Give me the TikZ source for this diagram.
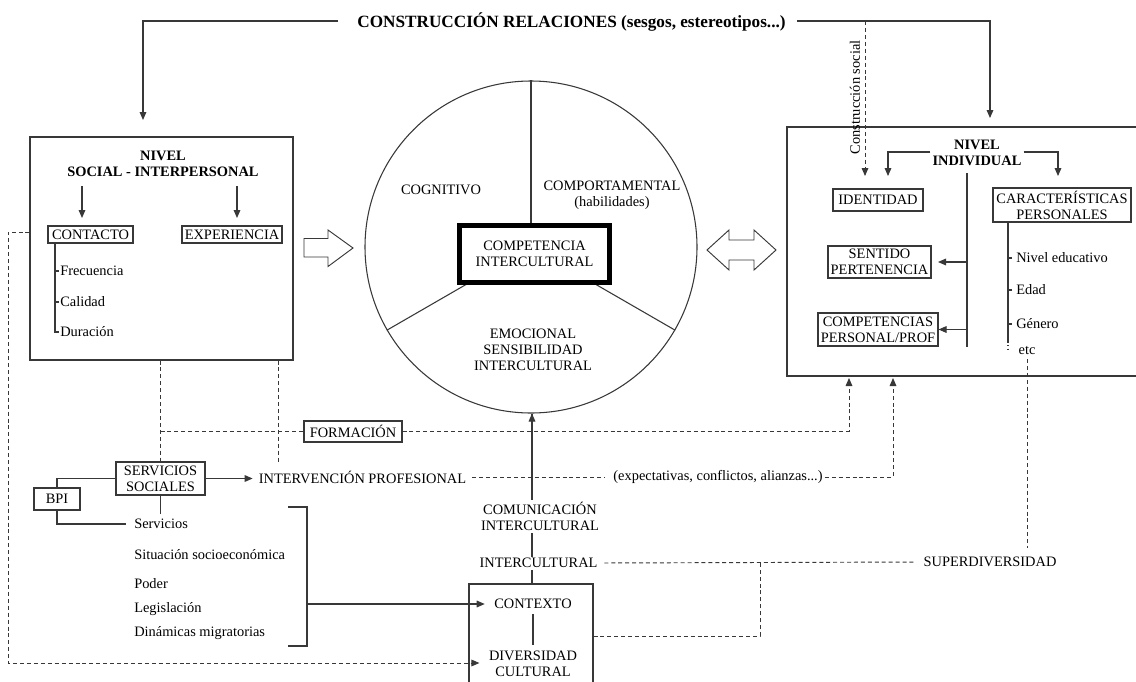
\documentclass[tikz,border=0pt]{standalone}
\usepackage{fontspec}
\setmainfont{Liberation Serif}
\usetikzlibrary{arrows.meta,calc}
\newcommand\fs{\fontsize{10.8}{12}\selectfont}
\newcommand\fbold{\fontsize{10.8}{12}\selectfont\bfseries}
\newcommand\ftitle{\fontsize{12.9}{14}\selectfont\bfseries}
\definecolor{lc}{gray}{0.22}
\tikzset{
  lbl/.style={font=\fs, inner sep=0pt, align=center},
  hd/.style={font=\fbold, inner sep=0pt, align=center},
  ttl/.style={font=\ftitle, inner sep=0pt},
  bx/.style 2 args={draw=lc, line width=0.8pt, font=\fs, align=center, inner sep=0pt,
                    minimum width=#1*0.75pt, minimum height=#2*0.75pt},
  ln/.style={draw=lc, line width=0.8pt},
  dsh/.style={draw=lc, line width=0.7pt, dash pattern=on 3pt off 2.2pt},
  arr/.style={-{Triangle[length=6pt,width=5pt]}},
  blockarrow/.style={draw=lc, line width=0.7pt, fill=white, line join=miter}
}
\begin{document}
\begin{tikzpicture}[x=0.75pt,y=-0.75pt]
\clip (0,0) rectangle (1136,682);
\fill[white] (0,0) rectangle (1136,682);

% ---------- title and the two top connectors ----------
\node[ttl] (title) at (571.5,22) {CONSTRUCCIÓN RELACIONES (sesgos, estereotipos...)};
\coordinate (tL) at (338,21);
\coordinate (tR) at (797,21);
\coordinate (aL) at (143,120);
\coordinate (aR) at (990,118);
\draw[ln,arr] (tL) -| (aL);
\draw[ln,arr] (tR) -| (aR);

% ---------- social / interpersonal level ----------
\node[bx={263}{223}] (lbox) at (161.5,248.5) {};
\node[hd] (lhead) at (163,164) {NIVEL\\SOCIAL - INTERPERSONAL};
\node[bx={85}{17}] (contacto) at (90.5,234.5) {CONTACTO};
\node[bx={100}{17}] (exper) at (232,234.5) {EXPERIENCIA};
\coordinate (c1) at (82,186);
\coordinate (c2) at (237,186);
\draw[ln,arr] (c1) -- (c1 |- 0,218);
\draw[ln,arr] (c2) -- (c2 |- 0,218);
\draw[ln] (55,243) -- (55,332) -- (59,332);
\draw[ln] (55,271) -- (59,271);
\draw[ln] (55,302) -- (59,302);
\node[lbl,anchor=west] (frec) at (60,271) {Frecuencia};
\node[lbl,anchor=west] (cal) at (60,302) {Calidad};
\node[lbl,anchor=west] (dur) at (60,332) {Duración};

% ---------- central circle ----------
\node[circle, draw=lc, line width=0.8pt, minimum size=332*0.75pt, inner sep=0pt] (circ) at (531,247) {};
\draw[ln] (circ.center) -- (circ.90);
\draw[ln] (circ.center) -- (circ.210);
\draw[ln] (circ.center) -- (circ.330);
\node[draw=black, line width=3.75pt, fill=white, font=\fs, align=center, inner sep=0pt,
      minimum width=150*0.75pt, minimum height=57*0.75pt] (comp) at (534.5,254)
      {COMPETENCIA\\INTERCULTURAL};
\node[lbl] (cogn) at (441,190) {COGNITIVO};
\node[lbl] (compor) at (612,195.5) {COMPORTAMENTAL\\(habilidades)};
\node[lbl] (emoc) at (533,349.5) {EMOCIONAL\\SENSIBILIDAD\\INTERCULTURAL};

% ---------- block arrows ----------
\draw[blockarrow] (304,238.5) -- (328,238.5) -- (328,230) -- (353,248) -- (328,266.5)
      -- (328,257) -- (304,257) -- cycle;
\draw[blockarrow] (707,250) -- (729,230) -- (729,240) -- (754,240) -- (754,230) -- (776,250)
      -- (754,270) -- (754,260) -- (729,260) -- (729,270) -- cycle;

% ---------- individual level ----------
\node[bx={353}{249}] (rbox) at (963.5,251.5) {};
\node[hd] (rhead) at (977,153) {NIVEL\\INDIVIDUAL};
\coordinate (r1) at (888,176);
\coordinate (r2) at (1058,176);
\draw[ln,arr] (rhead.west |- 0,152) ++(-2,0) -| (r1);
\draw[ln,arr] (rhead.east |- 0,152) ++(2,0) -| (r2);
\coordinate (cs1) at (865,21);
\coordinate (cs2) at (865,176);
\draw[dsh,arr] (cs1) -- (cs2);
\node[lbl, rotate=90] (csoc) at (855,97.5) {Construcción social};

\node[bx={90}{22}] (ident) at (878,200) {IDENTIDAD};
\node[bx={103}{32}] (sent) at (879.5,262) {SENTIDO\\PERTENENCIA};
\node[bx={120}{33}] (compet) at (878,329.5) {COMPETENCIAS\\PERSONAL/PROF};
\node[bx={138}{34}] (carac) at (1062,205) {CARACTERÍSTICAS\\PERSONALES};

\coordinate (v1) at (967,173);
\coordinate (v2) at (967,347);
\draw[ln] (v1) -- (v2);
\draw[ln,arr] (v1 |- sent) -- ++(-29,0);
\draw[ln,arr] (v1 |- compet) -- (compet.east);

\draw[ln] (1008,222) -- (1008,343);
\draw[ln, dotted] (1008,345) -- (1008,352);
\draw[ln] (1008,258) -- (1012,258);
\draw[ln] (1008,290) -- (1012,290);
\draw[ln] (1008,324) -- (1012,324);
\node[lbl,anchor=west] (niv) at (1016,258) {Nivel educativo};
\node[lbl,anchor=west] (edad) at (1016,290) {Edad};
\node[lbl,anchor=west] (gen) at (1016,324) {Género};
\node[lbl] (etc) at (1027,351) {etc};

% ---------- lower part ----------
\node[bx={98}{21}] (form) at (353,431.5) {FORMACIÓN};
\node[bx={89}{33}] (serv) at (160.5,478.5) {SERVICIOS\\SOCIALES};
\node[bx={46}{22}] (bpi) at (57,499) {BPI};
\node[lbl] (interv) at (362.5,477) {INTERVENCIÓN PROFESIONAL};
\node[lbl] (expect) at (718,477) {(expectativas, conflictos, alianzas...)};

\coordinate (f1) at (849,378);
\coordinate (f2) at (893,378);
\draw[dsh] (lbox.south -| serv.north) -- (serv.north);
\draw[dsh] (lbox.south -| 278,0) -- (278,462);
\draw[dsh] (serv.north |- form.west) -- (form.west);
\draw[dsh,arr] (form.east) -| (f1);
\draw[ln,arr] (serv.east) -- ([xshift=-4.5pt]serv.east -| interv.west);
\draw[dsh, shorten <=4.5pt, shorten >=6pt] (interv.east) -- (expect.west);
\draw[dsh,arr, shorten <=1.5pt] (expect.east) -| (f2);

\draw[ln] (bpi.north) |- (serv.west);
\node[lbl,anchor=west] (servs) at (134,524) {Servicios};
\draw[ln] (bpi.south) |- ([xshift=-6pt]servs.west);
\draw[ln] (serv.south) -- ++(0,18);
\node[lbl,anchor=west] (situ) at (134,555) {Situación socioeconómica};
\node[lbl,anchor=west] (poder) at (134,584) {Poder};
\node[lbl,anchor=west] (legis) at (134,609) {Legislación};
\node[lbl,anchor=west] (dinam) at (134,633) {Dinámicas migratorias};
\coordinate (b1) at (288,507);
\coordinate (b2) at (307,507);
\coordinate (b3) at (307,646);
\coordinate (b4) at (288,646);
\draw[ln] (b1) -- (b2) -- (b3) -- (b4);

\node[bx={124}{130}] (ctx) at (531,649) {};
\node[lbl] (contexto) at (533,604) {CONTEXTO};
\node[lbl] (divers) at (533,663.5) {DIVERSIDAD\\CULTURAL};
\draw[ln, shorten <=4pt, shorten >=4pt] (contexto.south) -- (divers.north);
\draw[ln,arr] (b2 |- contexto) -- ([xshift=-7pt]contexto.west);

\node[lbl] (comun) at (540,516.5) {COMUNICACIÓN\\INTERCULTURAL};
\node[lbl] (intc) at (538.5,563) {INTERCULTURAL};
\coordinate (ax) at (532,0);
\draw[ln,arr] (ax |- comun.north) ++(0,-2) -- (ax |- circ.south) ++(0,0);
\draw[ln] (ax |- comun.south) ++(0,2) -- (532,557);
\draw[ln] (532,570) -- (ax |- ctx.north);
\node[lbl] (super) at (990,562) {SUPERDIVERSIDAD};
\draw[dsh, shorten <=5pt, shorten >=6pt] (intc.east) -- (super.west);
\draw[dsh] (ctx.east |- 0,636) -| (760,562);
\draw[dsh] (1027,359) -- (1027,548);

% outer dashed path from the social level to cultural diversity
\coordinate (o1) at (8,232);
\coordinate (o2) at (8,663);
\draw[dsh,arr] (lbox.west |- o1) -- (o1) -- (o2) -- ([xshift=-7pt]divers.west |- o2);
\end{tikzpicture}
\end{document}
